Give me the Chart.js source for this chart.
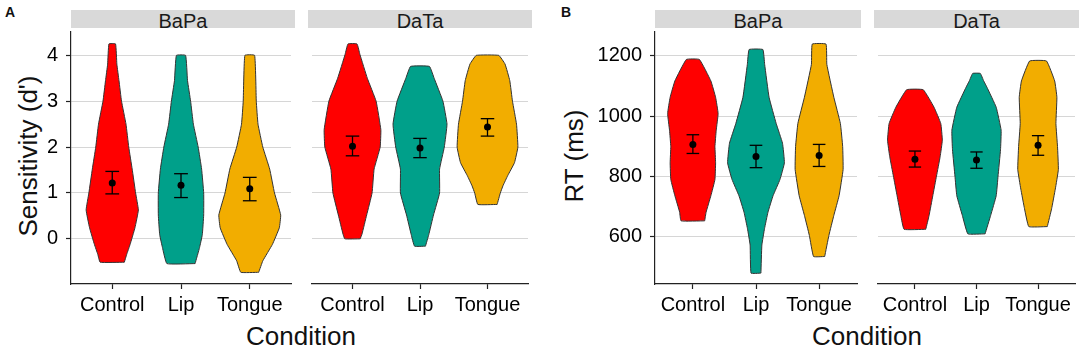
<!DOCTYPE html>
<html>
<head>
<meta charset="utf-8">
<script src="https://cdn.jsdelivr.net/npm/chart.js@4.4.1/dist/chart.umd.min.js"></script>
<style>
  body { margin: 0; background: #fff; width: 1084px; height: 351px; position: relative; overflow: hidden;
         font-family: 'Liberation Sans', Arial, Helvetica, sans-serif; color: #111; }
  canvas { position: absolute; top: 28px; }
  .strip { position: absolute; top: 10px; height: 16px; padding-top: 2px; line-height: 18px; background: #D9D9D9;
           text-align: center; font-size: 20px; color: #1a1a1a; }
  .xtitle { position: absolute; top: 323px; width: 300px; text-align: center; font-size: 26px; line-height: 26px; }
  .ytitle { position: absolute; width: 240px; height: 26px; line-height: 26px; font-size: 26px; text-align: center;
            transform: rotate(-90deg); }
  .tag { position: absolute; top: 4px; font-size: 14px; font-weight: bold; }
</style>
</head>
<body>
<div class="tag" style="left:5px">A</div>
<div class="tag" style="left:561px">B</div>

<div class="strip" style="left:71px;width:224px">BaPa</div>
<div class="strip" style="left:308px;width:224px">DaTa</div>
<div class="strip" style="left:655px;width:206px">BaPa</div>
<div class="strip" style="left:874px;width:205px">DaTa</div>

<div class="ytitle" style="left:-92px;top:143px">Sensitivity (d')</div>
<div class="ytitle" style="left:454px;top:143px">RT (ms)</div>
<div class="xtitle" style="left:151px">Condition</div>
<div class="xtitle" style="left:717px">Condition</div>

<canvas id="aBapa" width="264" height="296" style="left:31px"></canvas>
<canvas id="aData" width="224" height="296" style="left:308px"></canvas>
<canvas id="bBapa" width="266" height="296" style="left:595px"></canvas>
<canvas id="bData" width="205" height="296" style="left:874px"></canvas>

<script>
const conditions = ['Control', 'Lip', 'Tongue'];
const violinColors = ['#FF0000', '#00A08A', '#F2AD00'];
const sensTicks = [0, 1, 2, 3, 4];
const rtTicks = [600, 800, 1000, 1200];

// violin outlines: [value, half width in category units], bottom to top
const sensBapaControl = [[-0.51, 0.176], [-0.34, 0.21], [-0.12, 0.26], [0.24, 0.33], [0.63, 0.38], [1.0, 0.34],
  [1.52, 0.29], [2.0, 0.24], [2.5, 0.2], [3.0, 0.135], [3.45, 0.098], [3.81, 0.067], [4.25, 0.048]];
const sensBapaLip = [[-0.54, 0.205], [-0.19, 0.27], [0.09, 0.31], [0.52, 0.33], [1.0, 0.33], [1.52, 0.30],
  [2.0, 0.25], [2.5, 0.18], [3.0, 0.14], [3.45, 0.095], [4.0, 0.067]];
const sensBapaTongue = [[-0.73, 0.13], [-0.48, 0.19], [-0.12, 0.33], [0.24, 0.43], [0.52, 0.45], [1.0, 0.36],
  [1.52, 0.29], [2.0, 0.19], [2.5, 0.12], [3.0, 0.095], [4.0, 0.071]];
const sensDataControl = [[0.0, 0.114], [0.1, 0.14], [0.52, 0.21], [1.0, 0.29], [1.52, 0.32], [2.0, 0.41],
  [2.38, 0.42], [3.0, 0.35], [3.5, 0.22], [4.02, 0.11], [4.25, 0.067]];
const sensDataLip = [[-0.16, 0.081], [0.09, 0.13], [0.52, 0.2], [1.0, 0.29], [1.52, 0.29], [2.0, 0.36],
  [2.5, 0.4], [3.0, 0.34], [3.5, 0.21], [3.76, 0.14]];
const sensDataTongue = [[0.75, 0.143], [1.0, 0.19], [1.16, 0.23], [1.38, 0.3], [1.66, 0.40], [2.0, 0.45],
  [2.5, 0.43], [3.0, 0.37], [3.45, 0.33], [3.81, 0.26], [4.0, 0.167]];

const rtBapaControl = [[653, 0.187], [682, 0.21], [736, 0.285], [790, 0.35], [845, 0.36], [899, 0.35],
  [953, 0.37], [1008, 0.40], [1062, 0.36], [1116, 0.285], [1187, 0.104]];
const rtBapaLip = [[480, 0.078], [573, 0.093], [627, 0.135], [682, 0.19], [736, 0.27], [790, 0.38],
  [845, 0.45], [910, 0.42], [975, 0.32], [1062, 0.207], [1171, 0.137], [1220, 0.109]];
const rtBapaTongue = [[535, 0.088], [605, 0.155], [671, 0.233], [736, 0.316], [823, 0.38], [899, 0.373],
  [975, 0.337], [1062, 0.233], [1171, 0.122], [1238, 0.109]];
const rtDataControl = [[625, 0.176], [671, 0.23], [736, 0.29], [801, 0.35], [866, 0.41], [920, 0.445],
  [975, 0.42], [1029, 0.31], [1087, 0.135]];
const rtDataLip = [[610, 0.14], [671, 0.23], [736, 0.32], [801, 0.35], [888, 0.39], [953, 0.40],
  [1029, 0.32], [1095, 0.17], [1116, 0.117], [1141, 0.062]];
const rtDataTongue = [[634, 0.15], [693, 0.22], [758, 0.28], [823, 0.33], [899, 0.316], [975, 0.29],
  [1062, 0.306], [1116, 0.27], [1182, 0.137]];

// mean and error bar ends
const sensBapaMean = [1.22, 1.17, 1.09];
const sensBapaLow = [0.98, 0.90, 0.83];
const sensBapaHigh = [1.47, 1.42, 1.34];
const sensDataMean = [2.02, 1.98, 2.44];
const sensDataLow = [1.81, 1.77, 2.24];
const sensDataHigh = [2.24, 2.19, 2.62];
const rtBapaMean = [906, 866, 869];
const rtBapaLow = [876, 829, 833];
const rtBapaHigh = [938, 903, 906];
const rtDataMean = [857, 854, 903];
const rtDataLow = [831, 827, 870];
const rtDataHigh = [884, 881, 935];

const FONT = "'Liberation Sans', Arial, Helvetica, sans-serif";
const AXIS = '#222';

function violinPath(profile, cx) {
    const right = profile.map(p => ({x: cx + p[1], y: p[0]}));
    const left = profile.slice().reverse().map(p => ({x: cx - p[1], y: p[0]}));
    return right.concat(left, [right[0]]);
}

function makeFacet(id, yW, yMin, yMax, yTicks, violins, means, lows, highs) {
    const showY = yW > 0;
    const datasets = [];

    violins.forEach((v, i) => {
        datasets.push({
            data: violinPath(v, i + 1),
            showLine: true,
            fill: 'shape',
            backgroundColor: violinColors[i],
            borderColor: '#333',
            borderWidth: 1,
            pointRadius: 0,
            tension: 0.1,
            order: 3
        });
    });

    const bar = (pts) => ({
        data: pts, showLine: true, borderColor: '#000', borderWidth: 1.3, pointRadius: 0, tension: 0, order: 2
    });
    means.forEach((m, i) => {
        const x = i + 1;
        datasets.push(bar([{x: x, y: lows[i]}, {x: x, y: highs[i]}]));
        datasets.push(bar([{x: x - 0.1, y: highs[i]}, {x: x + 0.1, y: highs[i]}]));
        datasets.push(bar([{x: x - 0.1, y: lows[i]}, {x: x + 0.1, y: lows[i]}]));
    });

    datasets.push({
        data: means.map((m, i) => ({x: i + 1, y: m})),
        showLine: false,
        pointRadius: 3.5,
        pointBackgroundColor: '#000',
        pointBorderWidth: 0,
        order: 1
    });

    return new Chart(document.getElementById(id), {
        type: 'scatter',
        data: { datasets: datasets },
        options: {
            responsive: false,
            animation: false,
            devicePixelRatio: 1,
            layout: { padding: 0 },
            plugins: { legend: { display: false }, tooltip: { enabled: false } },
            scales: {
                x: {
                    type: 'linear', min: 0.4, max: 3.6,
                    afterBuildTicks: s => { s.ticks = [1, 2, 3].map(v => ({value: v})); },
                    ticks: {
                        callback: (v, i) => conditions[i],
                        font: { family: FONT, size: 20 }, color: '#000', padding: 4,
                        maxRotation: 0, autoSkip: false
                    },
                    grid: { drawOnChartArea: false, tickLength: 5, tickColor: AXIS, tickWidth: 1.2 },
                    border: { color: AXIS, width: 1.2 },
                    afterFit: s => { s.height = 40; s.paddingLeft = 0; s.paddingRight = 0; }
                },
                y: {
                    min: yMin, max: yMax,
                    afterBuildTicks: s => { s.ticks = yTicks.map(v => ({value: v})); },
                    ticks: { display: showY, callback: v => String(v), font: { family: FONT, size: 20 }, color: '#000', padding: 8 },
                    grid: { color: '#D6D6D6', lineWidth: 1, drawTicks: showY, tickLength: 5, tickColor: AXIS, tickWidth: 1.2 },
                    border: { display: showY, color: AXIS, width: 1.2 },
                    afterFit: s => { s.width = yW; s.paddingTop = 0; s.paddingBottom = 0; s.paddingLeft = 0; s.paddingRight = 0; }
                }
            }
        }
    });
}

makeFacet('aBapa', 40, -0.985, 4.51, sensTicks,
    [sensBapaControl, sensBapaLip, sensBapaTongue], sensBapaMean, sensBapaLow, sensBapaHigh);
makeFacet('aData', 0, -0.985, 4.51, sensTicks,
    [sensDataControl, sensDataLip, sensDataTongue], sensDataMean, sensDataLow, sensDataHigh);
makeFacet('bBapa', 60, 444, 1278, rtTicks,
    [rtBapaControl, rtBapaLip, rtBapaTongue], rtBapaMean, rtBapaLow, rtBapaHigh);
makeFacet('bData', 0, 444, 1278, rtTicks,
    [rtDataControl, rtDataLip, rtDataTongue], rtDataMean, rtDataLow, rtDataHigh);
</script>
</body>
</html>
